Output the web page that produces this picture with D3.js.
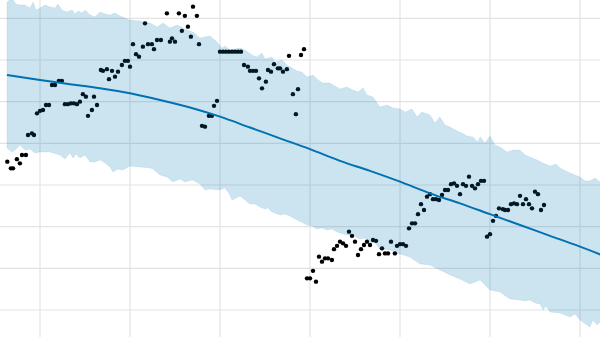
<!DOCTYPE html>
<html>
<head>
<meta charset="utf-8">
<script src="https://cdn.jsdelivr.net/npm/d3@7/dist/d3.min.js"></script>
<style>
  body { margin: 0; background: #fff; }
  svg { display: block; }
</style>
</head>
<body>
<svg id="chart"></svg>
<script>
// Observed values: [day, value]
const observed = [
  [19.1,62.8],[20.3,62.0],[21,62.0],[22.3,63.1],[23.3,62.6],[24,63.6],[25.3,63.6],[26,66.0],[27.3,66.2],[28,66.0],
  [29,68.6],[30,68.9],[31,69.0],[32,69.6],[33,69.6],[34,72.0],[35,72.0],[36.3,72.5],[37.3,72.5],[38.3,69.7],
  [39.3,69.7],[40.3,69.8],[41.3,69.8],[42.3,69.7],[43.3,70.0],[44.3,70.9],[45.3,70.6],[46,68.3],[47.3,69.0],[48,70.6],
  [49,69.6],[50.3,73.8],[51,73.7],[52.3,73.9],[53,72.7],[54,73.7],[55,73.0],[56,73.6],[57.3,74.4],[58.3,74.9],
  [59.3,74.9],[60,74.2],[61,76.9],[62,75.7],[63,75.4],[64.3,76.6],[65,79.4],[66,76.9],[67.3,76.9],[68,76.3],
  [69,77.4],[70.3,77.4],[72.3,80.6],[73.3,77.2],[74,77.6],[75,77.2],[76.3,80.6],[77.3,78.5],[78.3,80.3],[79.3,79.0],
  [80.3,77.8],[81,81.4],[82.3,80.3],[83,76.9],[84,67.1],[85,67.0],[86.3,68.3],[87.3,68.3],[88,69.5],[89,70.1],
  [90,76.0],[91,76.0],[92,76.0],[93,76.0],[94,76.0],[95,76.0],[96,76.0],[97,76.0],
  [98,74.4],[99.3,74.2],[100,73.7],[101,73.7],[102,73.7],[103,72.8],[104,71.6],[105.3,72.4],[106,73.8],[107,73.6],
  [108,74.5],[109.3,74.0],[110,74.0],[111,73.6],[112.3,73.9],[113,75.5],[114.3,70.9],[115.3,68.5],[116,71.5],[117,75.6],
  [118,76.3],[119,48.8],[120,48.8],[121,49.7],[122,48.4],[123,51.4],[124,50.8],[125,51.2],[126,51.2],[127.3,51.0],
  [128,52.3],[129,52.7],[130,53.2],[131,53.0],[132,52.7],[133,54.4],[134,53.9],[135,53.2],[136,51.6],[137,52.3],
  [138,52.8],[139,53.2],[140,52.8],[141,53.4],[142,53.3],[143,51.7],[144,52.4],[145,51.8],[146,51.8],[147,53.2],
  [148.3,51.8],[149,52.7],[150,52.9],[151,52.9],[152,52.7],[153,54.8],[154,55.4],[155,55.4],[156,56.5],[157,57.7],
  [158,57.0],[159,58.6],[160,58.9],[161,58.3],[162,58.3],[163,58.2],[164,58.8],[165,59.4],[166,59.4],[167,60.1],
  [168,60.2],[169,59.9],[170,58.9],[171,60.1],[172,59.9],[173,61.0],[174,59.9],[175,59.6],[176,60.1],[177,60.5],
  [178,60.5],[179,53.8],[180,54.1],[181,55.7],[182,56.3],[183,57.2],[184.3,57.1],[185,57.0],[186,57.0],[187,57.7],
  [188,57.8],[189,57.7],[190,58.7],[191,57.7],[192,58.3],[193,57.7],[194,57.2],[195,59.2],[196,58.9],[197,57.0],
  [198,57.6]
];

// Forecast (yhat)
const forecast = [
  [19,73.2],[30,72.6],[40,72.1],[50,71.6],[60,71.0],[70,70.2],[80,69.3],[90,68.2],[100,66.9],[110,65.6],
  [120,64.3],[130,62.9],[140,61.7],[150,60.4],[160,59.0],[170,57.8],[180,56.5],[190,55.2],[200,53.9],[210,52.6],[220,51.2]
];

// Uncertainty interval
const upper = [
  [19,81.96],[20,82.2],[21,82.2],[22,81.72],[23.3,81.6],[25,81.6],[26.7,81.24],[27.7,81.96],[28.7,81.0],[30,81.24],
  [31.7,81.6],[33.3,81.36],[35,81.24],[36,81.72],[37.3,81.0],[39,80.76],[40.7,81.0],[41.7,80.52],[42.7,80.88],[44,80.64],
  [45,81.0],[46.7,80.4],[48.3,80.16],[50,80.76],[51.7,80.52],[53.3,80.4],[55,80.64],[56.7,80.28],[58.3,80.04],[60,79.8],
  [63.3,79.68],[66.7,79.44],[69,78.96],[71,79.44],[73.3,78.84],[75.7,79.2],[79,78.6],[81,78.36],[83.3,77.64],[86.7,77.88],
  [89,77.16],[90.7,76.44],[91.7,76.68],[93.3,76.2],[96.7,76.44],[98.3,76.2],[100.7,75.6],[102.3,75.36],[104,75.84],[105,75.12],
  [107.3,75.36],[108.3,74.76],[110.7,75.0],[112.3,74.4],[114,74.04],[115.7,73.68],[117.3,73.56],[119,72.96],[121,73.2],[122.7,72.6],
  [124.3,72.24],[126.7,72.24],[128.3,71.88],[130,71.52],[132.3,71.76],[134.3,71.4],[136,71.16],[137.7,71.64],[139,70.8],[141,70.56],
  [143.3,69.36],[145.7,69.6],[147.7,69.24],[150,69.12],[151.7,68.76],[154,69.12],[155.7,68.16],[157.3,68.76],[160,68.4],[161.7,67.44],
  [163.3,68.16],[165,67.2],[166.7,66.96],[169,66.48],[170.7,66.24],[172.3,65.88],[174.3,65.76],[176,65.16],[176.7,65.76],[178.3,65.04],
  [180,65.88],[181.7,64.8],[183.3,64.56],[185.7,63.96],[187.7,64.2],[190,64.2],[191.7,63.6],[193.3,63.36],[195.7,63.0],[197.7,62.64],
  [200,62.28],[202,62.52],[203.3,62.04],[206.7,61.44],[208.3,61.2],[210,60.96],[211.7,60.48],[213.3,60.48],[215,60.84],[216.7,60.36],
  [220,60.12]
];
const lower = [
  [19,64.44],[20.7,63.96],[21.7,64.2],[23.3,64.8],[25,64.2],[26.7,64.32],[28.3,63.84],[30,63.96],[33.3,63.96],[36.7,63.6],
  [38.3,63.12],[40,63.84],[41,63.24],[42,63.72],[43.3,63.24],[45,63.6],[46.7,62.76],[48.3,62.76],[50,63.0],[51.7,62.64],
  [53.3,62.16],[54.3,61.56],[56,61.92],[57.7,61.8],[60,62.28],[63.3,62.16],[66.7,62.04],[67.7,61.92],[70,61.2],[72.3,60.96],
  [74.3,60.36],[76.7,60.72],[78.3,60.36],[80.7,60.6],[83.3,60.12],[85,59.4],[86.7,59.52],[90,59.4],[91.7,59.64],[93.3,58.8],
  [94,58.2],[96.7,58.68],[100,57.72],[101.7,57.72],[103.3,57.36],[105,57.12],[106,57.24],[107.3,56.76],[110,56.4],[111.7,56.52],
  [113.3,56.28],[115.7,55.8],[119,55.2],[120.7,55.08],[122.3,54.72],[124,54.84],[125.7,54.6],[127.3,54.72],[129,54.36],[132.3,54.0],
  [134.3,54.0],[136.7,53.52],[138.3,53.64],[140,53.16],[141.7,53.04],[143.3,52.32],[146.7,52.2],[150,51.72],[153.3,51.36],[156.7,50.52],
  [160,50.4],[163.3,49.8],[166.7,49.2],[170,48.72],[173.3,48.12],[176.7,48.6],[180,47.4],[183.3,47.16],[186.7,46.32],[190,46.2],
  [191.7,46.08],[193.3,46.2],[195,45.84],[196.7,45.72],[197.7,45.0],[198.7,45.48],[200,44.76],[203.3,44.64],[205,44.4],[206.7,44.16],
  [208.3,44.52],[210,43.8],[213.3,42.96],[214.3,43.8],[215.7,43.2],[216.7,43.56],[220,43.2]
];

// Grid tick positions
const xTicks = [30, 60, 90, 120, 150, 180, 210];
const yTicks = [45, 50, 55, 60, 65, 70, 75, 80];

const width = 600, height = 337;
const svg = d3.select('#chart').attr('width', width).attr('height', height);

const x = d3.scaleLinear().domain([50 / 3, 650 / 3]).range([0, width]);
const y = d3.scaleLinear().domain([82.2 - 0.12 * height, 82.2]).range([height, 0]);

// gridlines
svg.append('g').selectAll('line').data(xTicks).enter().append('line')
    .attr('x1', d => x(d)).attr('x2', d => x(d))
    .attr('y1', 0).attr('y2', height)
    .attr('stroke', '#e3e3e3').attr('stroke-width', 1.2);
svg.append('g').selectAll('line').data(yTicks).enter().append('line')
    .attr('x1', 0).attr('x2', width)
    .attr('y1', d => y(d)).attr('y2', d => y(d))
    .attr('stroke', '#e3e3e3').attr('stroke-width', 1.2);

// observed points
svg.append('g').selectAll('circle').data(observed).enter().append('circle')
    .attr('cx', d => x(d[0]))
    .attr('cy', d => y(d[1]))
    .attr('r', 2.2)
    .attr('fill', '#000');

// forecast line
const line = d3.line().x(d => x(d[0])).y(d => y(d[1])).curve(d3.curveMonotoneX);
svg.append('path')
    .datum(forecast)
    .attr('d', line)
    .attr('fill', 'none')
    .attr('stroke', '#0072B2')
    .attr('stroke-width', 2);

// uncertainty band
const edge = d3.line().x(d => x(d[0])).y(d => y(d[1]));
const band = upper.concat(lower.slice().reverse());
svg.append('path')
    .attr('d', edge(band) + 'Z')
    .attr('fill', '#0072B2')
    .attr('fill-opacity', 0.2)
    .attr('stroke', '#0072B2')
    .attr('stroke-opacity', 0.08)
    .attr('stroke-width', 1);
</script>
</body>
</html>
